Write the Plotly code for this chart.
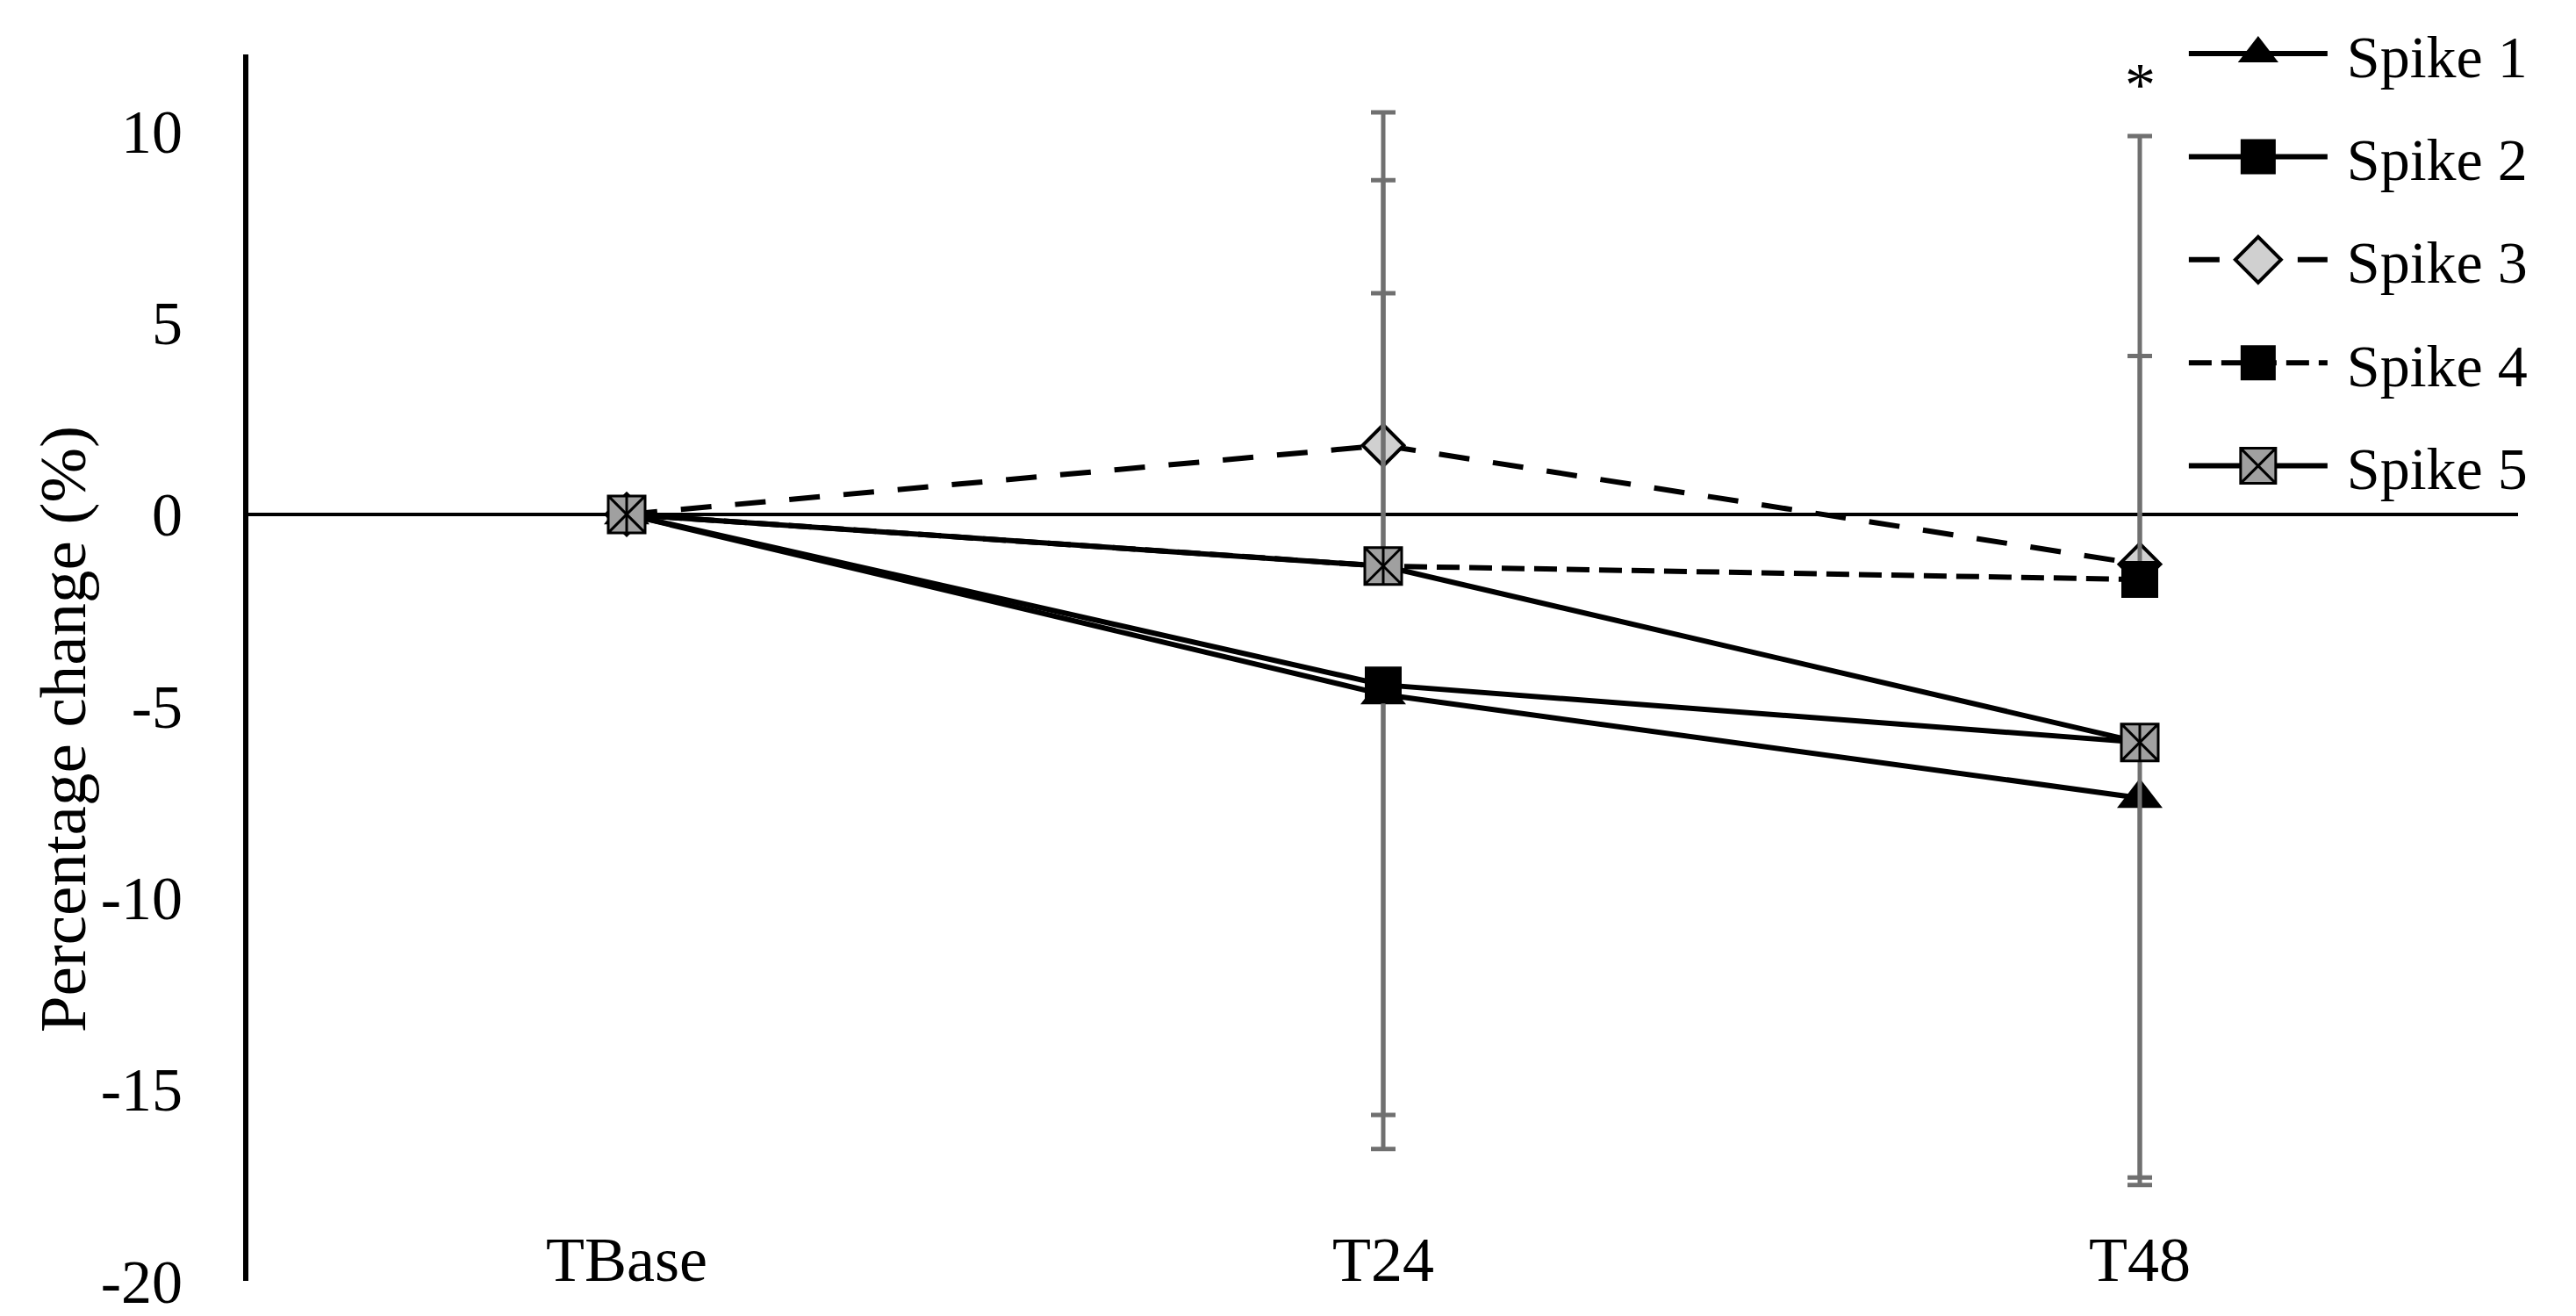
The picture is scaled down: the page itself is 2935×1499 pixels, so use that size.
import plotly.graph_objects as go

# Categories and y tick labels
time_points = ['TBase', 'T24', 'T48']
y_ticks = [-20, -15, -10, -5, 0, 5, 10]
y_tick_text = ['-20', '-15', '-10', '-5', '0', '5', '10']

series_names = ['Spike 1', 'Spike 2', 'Spike 3', 'Spike 4', 'Spike 5']

# Mean percentage change per time point
spike1 = [0, -4.7, -7.4]
spike2 = [0, -4.45, -5.95]
spike3 = [0, 1.8, -1.3]
spike4 = [0, -1.35, -1.7]
spike5 = [0, -1.35, -5.95]

# Error bars (one-sided, as drawn)
spike1_err_minus = [0, 11.86, 10.1]
spike2_err_minus = [0, 11.22, 11.35]
spike3_err_plus = [0, 8.69, 11.17]
spike4_err_plus = [0, 10.07, 5.83]
spike5_err_plus = [0, 7.12, 0]

FONT = 'Liberation Serif, Times New Roman, serif'
ERR_COLOR = '#707070'


def err(plus=None, minus=None):
    zeros = [0, 0, 0]
    return dict(type='data', symmetric=False,
                array=plus if plus is not None else zeros,
                arrayminus=minus if minus is not None else zeros,
                color=ERR_COLOR, thickness=5, width=14)


fig = go.Figure()

fig.add_trace(go.Scatter(
    x=time_points, y=spike1, name=' ' + series_names[0], mode='lines+markers',
    line=dict(color='black', width=6),
    marker=dict(symbol='triangle-up', size=45, color='black'),
    error_y=err(minus=spike1_err_minus),
    legendgroup='1',
))
fig.add_trace(go.Scatter(
    x=time_points, y=spike2, name=' ' + series_names[1], mode='lines+markers',
    line=dict(color='black', width=6),
    marker=dict(symbol='square', size=42, color='black'),
    error_y=err(minus=spike2_err_minus),
    legendgroup='2',
))
fig.add_trace(go.Scatter(
    x=time_points, y=spike3, name=' ' + series_names[2], mode='lines+markers',
    line=dict(color='black', width=6, dash='35px,27px'),
    marker=dict(symbol='diamond', size=36, color='#D0D0D0',
                line=dict(color='black', width=4)),
    error_y=err(plus=spike3_err_plus),
    legendgroup='3',
))
fig.add_trace(go.Scatter(
    x=time_points, y=spike4, name=' ' + series_names[3], mode='lines+markers',
    line=dict(color='black', width=6, dash='26px,11px'),
    marker=dict(symbol='square', size=42, color='black'),
    error_y=err(plus=spike4_err_plus),
    legendgroup='4',
))
fig.add_trace(go.Scatter(
    x=time_points, y=spike5, name=' ' + series_names[4], mode='lines+markers',
    line=dict(color='black', width=6),
    marker=dict(symbol='square-x', size=42, color='#A0A0A0',
                line=dict(color='black', width=3)),
    error_y=err(plus=spike5_err_plus),
    legendgroup='5',
))
# vertical stroke of the asterisk marker
fig.add_trace(go.Scatter(
    x=time_points, y=spike5, mode='markers', showlegend=False, hoverinfo='skip',
    marker=dict(symbol='line-ns', size=29, line=dict(color='black', width=3)),
    legendgroup='5',
))

# significance star above T48
fig.add_annotation(x='T48', y=11.2, text='*', showarrow=False,
                   font=dict(family=FONT, size=70, color='black'),
                   yanchor='middle')

# y axis title
fig.add_annotation(xref='paper', yref='paper', x=-0.082, y=0.45,
                   text='Percentage change (%)', textangle=-90, showarrow=False,
                   font=dict(family=FONT, size=75, color='black'),
                   xanchor='center', yanchor='middle')

fig.update_layout(
    width=2935, height=1499,
    margin=dict(l=283, r=66, t=62, b=40, autoexpand=False),
    paper_bgcolor='white', plot_bgcolor='white',
    font=dict(family=FONT, color='black'),
    legend=dict(
        x=0.853, y=1.037, xanchor='left', yanchor='top',
        font=dict(family=FONT, size=68, color='black'),
        itemwidth=158, traceorder='grouped', tracegroupgap=26,
        bgcolor='rgba(0,0,0,0)',
    ),
)

# category labels sit just above the bottom of the plot area
fig.update_xaxes(
    type='category', range=[-0.5, 2.5],
    anchor='free', position=0.052,
    showgrid=False, zeroline=False, showline=False, ticks='',
    tickfont=dict(family=FONT, size=72, color='black'),
)

fig.update_yaxes(
    range=[-20, 12], tickvals=y_ticks, ticktext=y_tick_text,
    showgrid=False, zeroline=True, zerolinecolor='black', zerolinewidth=4,
    showline=True, linecolor='black', linewidth=6, ticks='',
    ticklabelstandoff=55, ticklabeloverflow='allow',
    tickfont=dict(family=FONT, size=70, color='black'),
)

# legend symbols are capped at 16px by plotly; scale them up to the trace marker size
post_js = """
document.body.style.margin = '0';
var gd = document.getElementById('{plot_id}');
function bigLegend() {
  gd.querySelectorAll('.legend .legendpoints path.scatterpts').forEach(function(p) {
    var t = p.getAttribute('transform') || '';
    if (t.indexOf('scale') >= 0) return;
    var d = p.__data__;
    var tr = d && d[0] && d[0].trace;
    var s = (tr && tr.marker && tr.marker.size) ? tr.marker.size / 16 : 2.5;
    p.setAttribute('transform', t + ' scale(' + s + ')');
    p.style.vectorEffect = 'non-scaling-stroke';
  });
}
bigLegend();
gd.on('plotly_afterplot', bigLegend);
"""

fig.write_html("out.html", post_script=post_js, config={'displayModeBar': False})
